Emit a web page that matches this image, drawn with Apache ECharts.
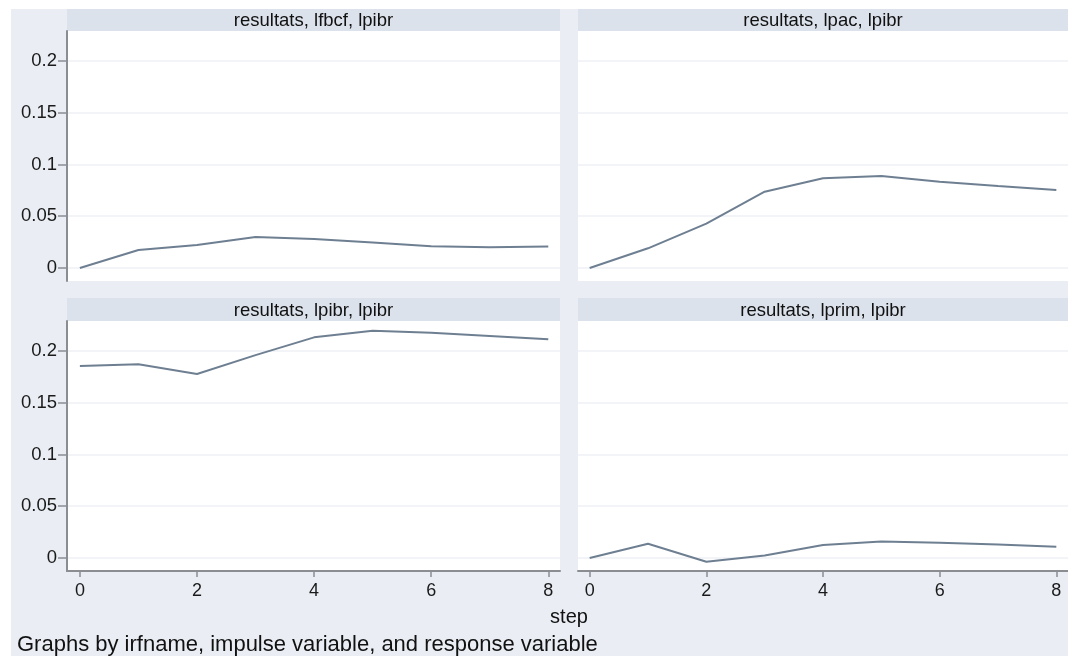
<!DOCTYPE html>
<html>
<head>
<meta charset="utf-8">
<script src="https://cdn.jsdelivr.net/npm/echarts@6/dist/echarts.min.js"></script>
<style>
  html, body { margin: 0; padding: 0; background: #fff; }
  #chart { width: 1068px; height: 656px; }
</style>
</head>
<body>
<div id="chart"></div>
<script>
const steps = [0, 1, 2, 3, 4, 5, 6, 7, 8];
const panelTitles = [
  'resultats, lfbcf, lpibr',
  'resultats, lpac, lpibr',
  'resultats, lpibr, lpibr',
  'resultats, lprim, lpibr'
];
const lfbcf = [0, 0.0174, 0.0222, 0.030, 0.028, 0.0245, 0.021, 0.020, 0.0208];
const lpac = [0, 0.019, 0.0428, 0.0737, 0.0867, 0.0889, 0.0834, 0.0792, 0.0754];
const lpibr = [0.1855, 0.1872, 0.1778, 0.196, 0.2132, 0.2196, 0.2177, 0.2145, 0.2113];
const lprim = [0, 0.0138, -0.0036, 0.0023, 0.0126, 0.0158, 0.0148, 0.0129, 0.0109];
const xTicks = [0, 2, 4, 6, 8];
const yTicks = [0, 0.05, 0.1, 0.15, 0.2];

const lineColor = '#6e7f92';
const axisGray = '#8a8d92';
const font = 'Liberation Sans, Arial, sans-serif';

// panel boxes: [left, top, width, height]
const boxes = [
  [67, 31, 493, 250],
  [578, 31, 490, 250],
  [67, 321, 493, 250],
  [578, 321, 490, 250]
];
const seriesData = [lfbcf, lpac, lpibr, lprim];

const grids = [], xAxes = [], yAxes = [], series = [], graphics = [];

graphics.push({
  type: 'rect', shape: { x: 11, y: 9, width: 1057, height: 647 },
  style: { fill: '#eaeef4' }, z: -10
});

boxes.forEach(function (b, i) {
  const leftCol = i % 2 === 0;
  const bottomRow = i >= 2;
  grids.push({
    left: b[0], top: b[1], width: b[2], height: b[3],
    show: true, backgroundColor: '#ffffff', borderWidth: 0
  });
  xAxes.push({
    type: 'value', gridIndex: i, min: leftCol ? -0.22 : -0.2, max: 8.2,
    axisLine: { show: bottomRow, onZero: false, lineStyle: { color: axisGray, width: 2 } },
    axisTick: { show: bottomRow, length: 6, customValues: xTicks, lineStyle: { color: axisGray, width: 1.5 } },
    axisLabel: { show: bottomRow, customValues: xTicks, fontSize: 18, color: '#1a1a1a', fontFamily: font, margin: 11 },
    splitLine: { show: false }
  });
  yAxes.push({
    type: 'value', gridIndex: i, min: -0.0126, max: 0.229,
    axisLine: { show: leftCol, onZero: false, lineStyle: { color: axisGray, width: 2 } },
    axisTick: { show: leftCol, length: 9, customValues: yTicks, lineStyle: { color: axisGray, width: 1.5 } },
    axisLabel: { show: leftCol, customValues: yTicks, fontSize: 18.5, color: '#1a1a1a', fontFamily: font, margin: 10 },
    splitLine: { show: true, lineStyle: { color: '#eef1f5', width: 1.5 } }
  });
  series.push({
    type: 'line', xAxisIndex: i, yAxisIndex: i,
    data: steps.map(function (s, k) { return [s, seriesData[i][k]]; }),
    showSymbol: false, smooth: false,
    lineStyle: { color: lineColor, width: 2 },
    silent: true
  });
  const headTop = bottomRow ? 298 : 9;
  graphics.push({
    type: 'rect', shape: { x: b[0], y: headTop, width: b[2], height: b[1] - headTop },
    style: { fill: '#dbe2eb' }, z: -5
  });
  graphics.push({
    type: 'text', x: b[0] + b[2] / 2, y: headTop + (b[1] - headTop) / 2 + 1,
    style: { text: panelTitles[i], fill: '#111', font: '18.5px ' + font, align: 'center', verticalAlign: 'middle' }
  });
});

graphics.push({
  type: 'text', x: 569, y: 617,
  style: { text: 'step', fill: '#111', font: '20px ' + font, align: 'center', verticalAlign: 'middle' }
});
graphics.push({
  type: 'text', x: 17, y: 645,
  style: { text: 'Graphs by irfname, impulse variable, and response variable', fill: '#111', font: '22px ' + font, align: 'left', verticalAlign: 'middle' }
});

const myChart = echarts.init(document.getElementById('chart'));
myChart.setOption({
  animation: false,
  backgroundColor: '#ffffff',
  grid: grids,
  xAxis: xAxes,
  yAxis: yAxes,
  series: series,
  graphic: graphics
});
window.addEventListener('resize', function () {
  myChart.resize();
});
</script>
</body>
</html>
